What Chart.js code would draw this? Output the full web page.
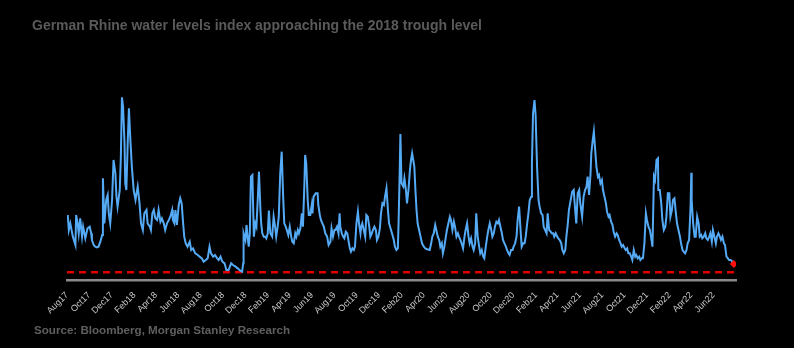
<!DOCTYPE html>
<html><head><meta charset="utf-8">
<script src="https://cdn.jsdelivr.net/npm/chart.js@4.4.0/dist/chart.umd.min.js"></script>
<style>
html,body{margin:0;padding:0;background:#000;}
#wrap{position:relative;width:794px;height:348px;background:#000;overflow:hidden;}
#title{position:absolute;left:32px;top:17px;font:bold 14px "Liberation Sans",Arial,sans-serif;color:#5a5a5a;white-space:nowrap;transform-origin:0 0;}
#source{position:absolute;left:34px;top:324px;font:bold 10.5px "Liberation Sans",Arial,sans-serif;color:#5f5f5f;white-space:nowrap;transform-origin:0 0;}
canvas{position:absolute;left:0;top:0;}
</style></head><body>
<div id="wrap">
<canvas id="c" width="794" height="348"></canvas>
<div id="title">German Rhine water levels index approaching the 2018 trough level</div>
<div id="source">Source: Bloomberg, Morgan Stanley Research</div>
</div>
<script>
// Start of the axis (1 Aug 2017); x values are days since this date
const baseDate = Date.UTC(2017, 7, 1);
const axisEndDay = 1826; // 31 Jul 2022
const tickLabels = ['Aug17','Oct17','Dec17','Feb18','Apr18','Jun18','Aug18','Oct18','Dec18','Feb19','Apr19','Jun19','Aug19','Oct19','Dec19','Feb20','Apr20','Jun20','Aug20','Oct20','Dec20','Feb21','Apr21','Jun21','Aug21','Oct21','Dec21','Feb22','Apr22','Jun22'];
const troughLevel2018 = 23;

const dayOffsets = [
2,5,9,16,23,25,29,32,36,41,44,50,56,62,66,68,73,77,82,86,91,96,98,102,107,111,114,118,123,127,132,135,138,144,147,150,153,157,159,162,166,169,173,177,182,187,193,198,202,207,211,217,220,226,229,233,237,241,246,250,255,259,264,268,273,278,282,287,289,293,296,300,305,309,313,317,320,324,329,335,339,344,350,357,362,368,373,379,384,389,393,399,404,410,414,419,424,430,435,441,448,453,460,466,473,
478,481,482,487,490,493,496,499,502,506,510,514,517,521,524,528,530,533,537,541,544,548,551,555,560,564,568,571,575,578,582,586,590,593,597,600,604,608,612,615,619,623,626,630,633,637,641,644,648,650,653,657,660,664,668,670,673,679,684,686,690,693,697,701,705,710,714,719,722,726,730,733,737,741,744,746,750,754,757,761,765,768,772,775,779,783,786,790,794,797,801,803,806,810,814,817,821,825,828,832,835,839,843,846,850,854,857,861,865,868,872,876,879,883,887,892,895,899,903,905,908,910,
913,918,921,925,928,932,936,939,942,945,948,951,954,957,961,965,969,974,978,983,990,994,997,1001,1005,1008,1012,1016,1019,1023,1026,1030,1034,1037,1041,1045,1048,1052,1056,1059,1063,1067,1070,1074,1077,1081,1085,1088,1092,1096,1099,1103,1107,1110,1114,1117,1121,1125,1128,1132,1136,1139,1143,1147,1150,1154,1158,1161,1165,1168,1172,1176,1179,1183,1187,1190,1194,1198,1201,1205,1208,1212,1216,1219,1223,1227,1230,1234,1238,1241,1245,1249,1252,1256,1259,1263,1267,1269,1272,1276,1279,1283,1287,1290,1294,1298,1301,1305,1309,1312,1316,1320,1323,1327,1330,1334,1338,1341,1345,1349,1352,1356,1360,1363,1367,1370,1374,
1379,1383,1387,1390,1394,1398,1401,1406,1410,1414,1418,1421,1425,1429,1431,1435,1438,1441,1445,1449,1452,1456,1460,1463,1467,1471,1474,1478,1481,1485,1489,1492,1496,1500,1503,1507,1511,1514,1518,1522,1525,1529,1532,1536,1540,1543,1547,1551,1554,1558,1562,1565,1569,1572,1576,1580,1583,1587,1591,1594,1598,1602,1605,1609,1613,1614,1618,1622,1625,1629,1633,1636,1640,1644,1647,1651,1654,1658,1662,1665,1669,1673,1676,1680,1683,1687,1691,1694,1698,1702,1704,1705,1709,1713,1716,1720,1724,1727,1731,1734,1738,1742,1745,1749,1753,1756,1760,1763,1767,1771,1774,1778,1782,1785,1789,1793,1796,1800,1804,1807,1811,1814,1818,1820
];
const levelIndex = [
195,150,170,130,105,195,170,140,185,130,160,125,155,160,140,120,105,100,98,100,115,135,305,170,240,255,200,170,240,360,320,250,220,270,370,548,520,410,290,270,420,515,420,340,270,240,280,230,170,150,200,210,170,160,150,200,210,185,180,210,175,185,170,150,170,180,190,210,180,170,210,165,225,245,230,170,130,110,100,115,90,95,80,75,70,65,55,60,65,100,80,70,75,65,60,70,55,50,30,30,50,45,40,35,28,
25,50,140,120,165,130,100,140,310,315,130,170,160,250,325,210,170,140,130,130,125,140,208,140,130,190,160,130,160,190,320,385,250,170,160,150,135,160,130,115,110,140,130,150,140,155,200,160,290,375,350,240,195,195,225,200,250,260,260,225,195,180,170,160,140,130,105,115,155,130,150,150,160,140,200,160,140,130,125,145,140,120,95,85,95,90,100,170,205,170,140,160,170,150,130,195,190,160,130,140,150,160,150,120,130,155,200,230,225,250,275,210,170,155,140,120,100,90,95,170,320,438,
290,280,305,270,230,270,330,360,380,360,340,270,210,170,150,130,110,100,95,92,90,110,130,140,165,150,130,120,100,110,80,100,130,150,170,190,180,150,175,160,130,140,130,120,110,95,130,150,170,130,110,125,100,90,110,200,130,100,80,90,70,65,100,130,150,170,150,130,140,160,175,170,180,160,140,120,110,100,90,80,75,90,90,100,110,130,180,220,150,100,110,110,130,170,195,240,250,350,500,540,495,340,240,220,200,195,160,150,140,200,150,145,140,140,130,140,130,125,120,110,90,80,90,130,170,210,235,
265,270,210,170,260,270,230,190,250,270,280,310,255,320,380,420,445,400,340,310,315,290,300,270,250,230,205,190,195,175,165,145,130,140,135,120,110,100,105,95,90,95,80,80,70,60,90,70,75,65,70,60,65,65,110,200,180,160,150,130,100,310,300,360,365,270,270,230,180,150,160,190,260,260,190,210,240,245,200,170,150,130,110,90,85,80,90,110,120,220,322,240,170,130,130,190,170,130,135,125,130,140,125,120,130,140,115,150,130,110,130,140,130,120,130,110,105,70,65,60,60,58,50,48
];

const tickDays = tickLabels.map((_, i) => (Date.UTC(2017, 7 + 2 * i, 1) - baseDate) / 86400000);
const series = dayOffsets.map((d, i) => ({ x: d, y: levelIndex[i] }));
const lastPoint = series[series.length - 1];

new Chart(document.getElementById('c'), {
  type: 'line',
  data: {
    datasets: [
      { data: [lastPoint], showLine: false, pointRadius: 4, pointStyle: 'rectRot', backgroundColor: '#ff1010', borderColor: '#ff1010', borderWidth: 0 },
      { data: series, borderColor: '#55aaf5', borderWidth: 2, pointRadius: 0, tension: 0 },
      { data: [{ x: 0, y: troughLevel2018 }, { x: axisEndDay, y: troughLevel2018 }], borderColor: '#e00000', borderWidth: 2.5, borderDash: [7, 5], pointRadius: 0 }
    ]
  },
  options: {
    responsive: false,
    animation: false,
    devicePixelRatio: 1,
    layout: { padding: { left: 67, right: 58, top: 90, bottom: 0 } },
    plugins: { legend: { display: false }, tooltip: { enabled: false } },
    scales: {
      x: {
        type: 'linear', min: 0, max: axisEndDay,
        afterBuildTicks: (axis) => { axis.ticks = tickDays.map(v => ({ value: v })); },
        afterFit: (s) => { s.height = 68; },
        grid: { display: false, drawTicks: true, tickLength: 6 },
        border: { display: true, color: '#8a8a8a', width: 2.5 },
        ticks: {
          autoSkip: false, maxRotation: 45, minRotation: 45, padding: 4,
          color: '#cacaca', font: { family: '"Liberation Sans", Arial, sans-serif', size: 9 },
          callback: (v, i) => tickLabels[i]
        }
      },
      y: { display: false, min: 0, max: 570 }
    }
  }
});

function fitWidth(id, target) {
  const el = document.getElementById(id);
  const w = el.getBoundingClientRect().width;
  el.style.transform = 'scaleX(' + (target / w) + ')';
}
fitWidth('title', 450);
fitWidth('source', 256);
</script>
</body></html>
